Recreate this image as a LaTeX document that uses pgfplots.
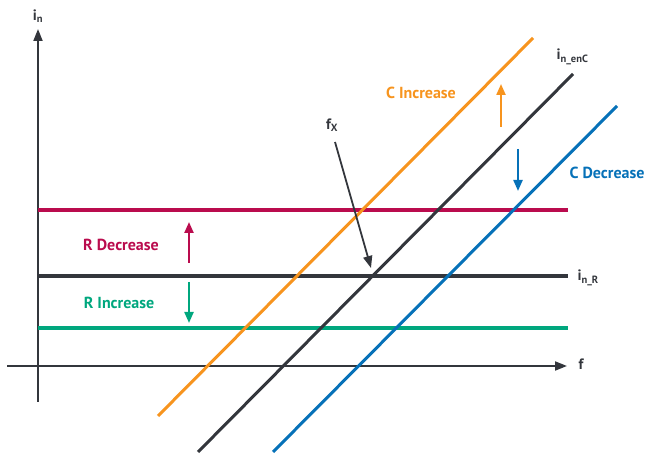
\documentclass[border=0pt]{standalone}
\usepackage{pgfplots}
\pgfplotsset{compat=1.18}
\usepackage{fontspec}
\setmainfont{PT Sans}
\usetikzlibrary{arrows.meta}
\definecolor{cdark}{HTML}{33363C}
\definecolor{corange}{HTML}{F7941E}
\definecolor{cred}{HTML}{BA0C4E}
\definecolor{cgreen}{HTML}{00A77E}
\definecolor{cblue}{HTML}{0671B8}
\begin{document}
\begin{tikzpicture}
\begin{axis}[name=ax, scale only axis, width=647pt, height=457pt,
  xmin=0, xmax=647, ymin=0, ymax=457, hide axis, clip=false,
  every axis plot/.append style={no marks}]
% axes
\addplot[cdark, line width=1.8pt, -{Triangle[length=12pt,width=9pt]}] coordinates {(38,55) (38,428)};
\addplot[cdark, line width=1.8pt, -{Triangle[length=12pt,width=9pt]}] coordinates {(7,91) (567,91)};
% horizontal levels
\addplot[cred, line width=3.3pt] coordinates {(38,247) (568,247)};
\addplot[cdark, line width=3.3pt] coordinates {(38,181) (568,181)};
\addplot[cgreen, line width=3.3pt] coordinates {(38,129) (568,129)};
% diagonal lines
\addplot[corange, line width=3pt] coordinates {(158,41) (533,419)};
\addplot[cdark, line width=3pt] coordinates {(198,5) (573,383)};
\addplot[cblue, line width=3pt] coordinates {(273,5) (617,351)};
% arrows
\addplot[corange, line width=2.2pt, -{Triangle[length=11pt,width=9pt]}] coordinates {(501,330) (501,373)};
\addplot[cblue, line width=2.2pt, -{Triangle[length=11pt,width=9pt]}] coordinates {(518,308) (518,266)};
\addplot[cred, line width=2.2pt, -{Triangle[length=11pt,width=9pt]}] coordinates {(189,194) (189,235)};
\addplot[cgreen, line width=2.2pt, -{Triangle[length=11pt,width=9pt]}] coordinates {(189,175) (189,134)};
\addplot[cdark, line width=1.8pt, -{Triangle[length=12pt,width=9pt]}] coordinates {(335,315) (371,189)};
% labels
\node[text=cdark, font=\fontsize{15}{18}\selectfont\bfseries] at (axis cs:38,441) {i\textsubscript{n}};
\node[text=cdark, font=\fontsize{15}{18}\selectfont\bfseries] at (axis cs:332,332) {f\textsubscript{X}};
\node[text=cdark, font=\fontsize{15}{18}\selectfont\bfseries, anchor=west] at (axis cs:553,400) {i\textsubscript{n\_enC}};
\node[text=cdark, font=\fontsize{15}{18}\selectfont\bfseries, anchor=west] at (axis cs:574,179) {i\textsubscript{n\_R}};
\node[text=cdark, font=\fontsize{15}{18}\selectfont\bfseries, anchor=west] at (axis cs:575,93) {f};
\node[text=corange, font=\fontsize{16}{19}\selectfont\bfseries] at (axis cs:421,364) {C Increase};
\node[text=cblue, font=\fontsize{16}{19}\selectfont\bfseries] at (axis cs:607,284) {C Decrease};
\node[text=cred, font=\fontsize{16}{19}\selectfont\bfseries] at (axis cs:121,212) {R Decrease};
\node[text=cgreen, font=\fontsize{16}{19}\selectfont\bfseries] at (axis cs:119,154) {R Increase};
\end{axis}
\pgfresetboundingbox
\path (ax.south west) rectangle (ax.north east);
\end{tikzpicture}
\end{document}
